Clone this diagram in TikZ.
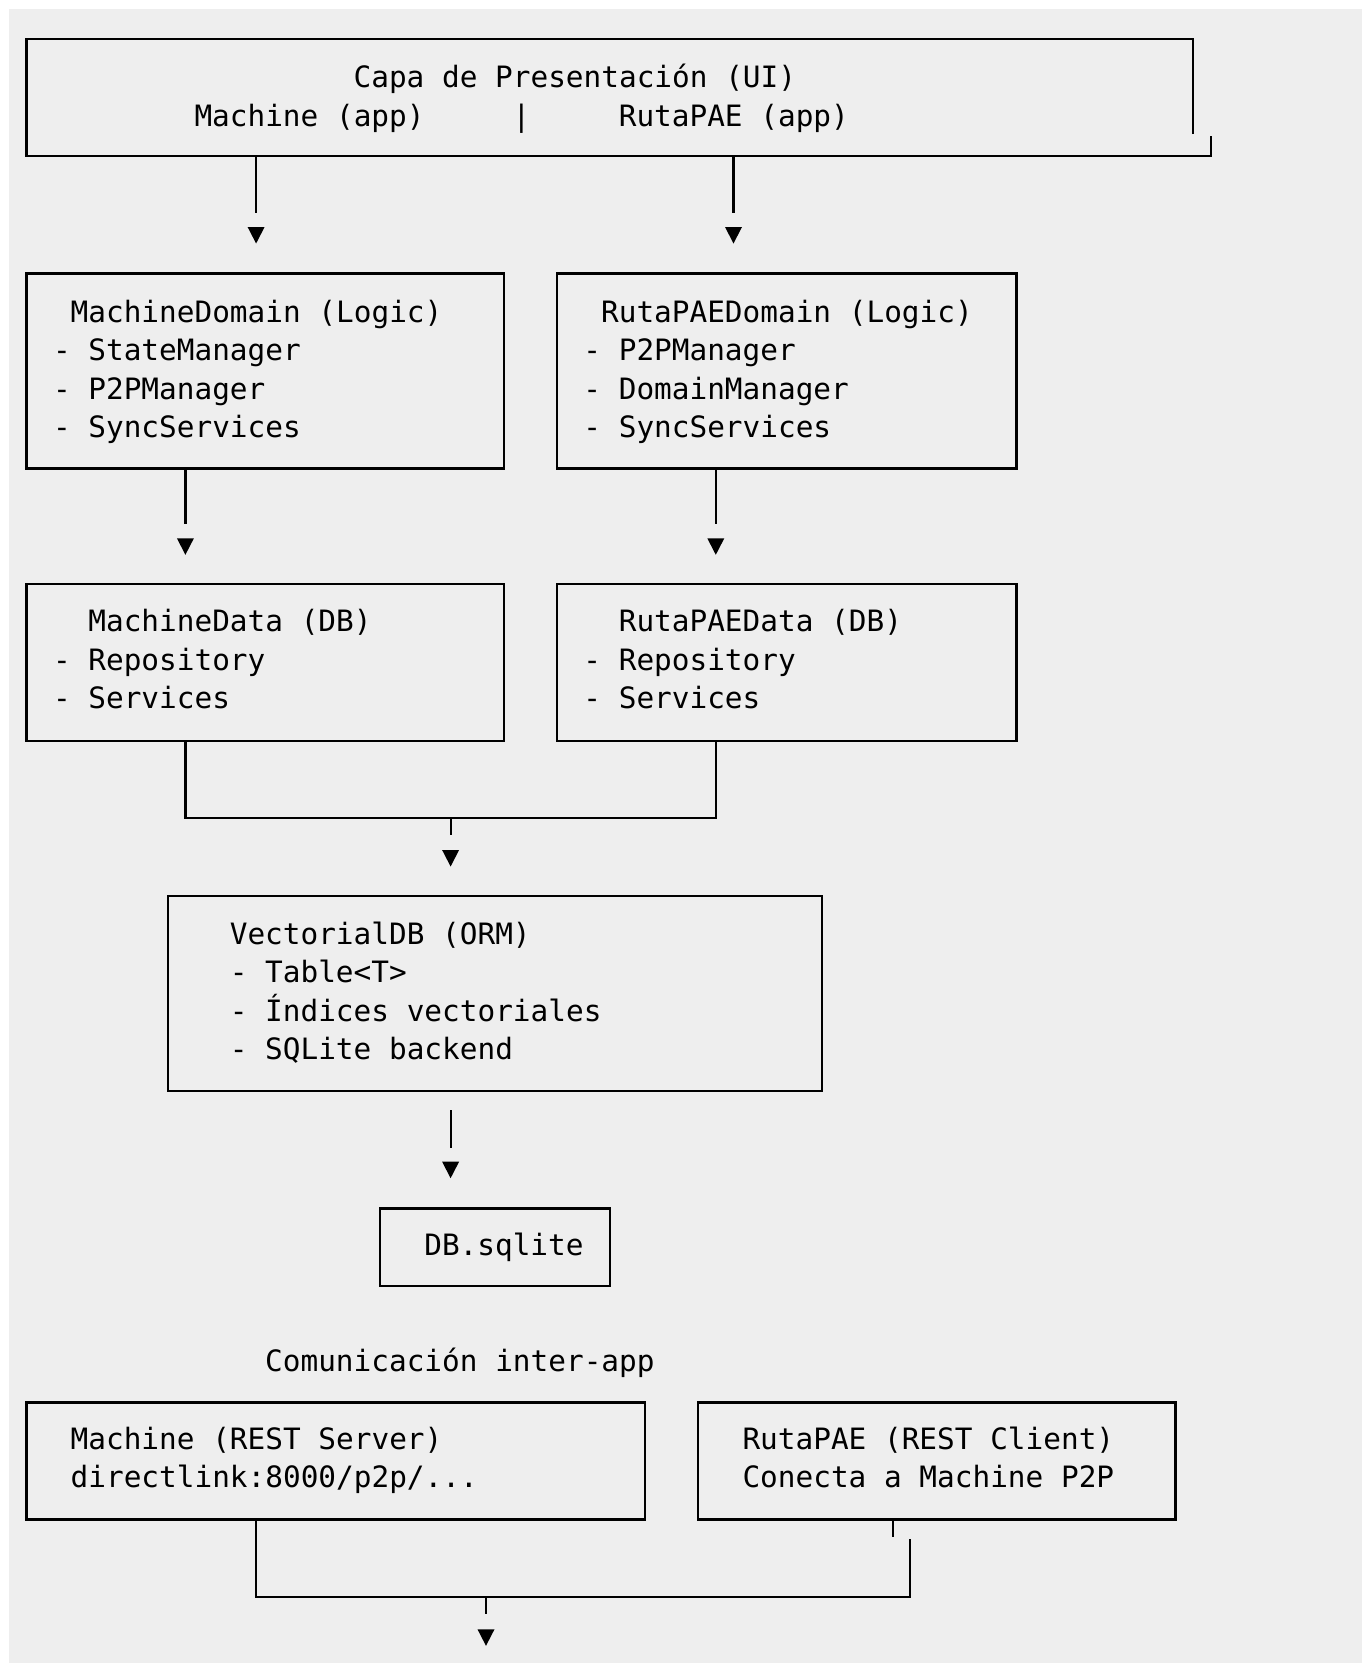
\documentclass[tikz,border=0pt]{standalone}
\usepackage{fontspec}
\newfontfamily\asciimono{DejaVu Sans Mono}
\newcommand{\asciifont}{\asciimono\fontsize{29.4pt}{38.5pt}\selectfont}
\definecolor{paper}{HTML}{EEEEEE}
\tikzset{
  box/.style={draw,line width=2.4pt,inner sep=0pt,outer sep=0pt,anchor=north west},
  frame/.style={inner sep=0pt,outer sep=0pt,anchor=north west},
  txt/.style={font=\asciifont,anchor=base west,inner sep=0pt},
  link/.style={line width=2.2pt},
}
\begin{document}
\frenchspacing
\begin{tikzpicture}[x=1pt,y=-1pt]
\useasboundingbox (0,0) rectangle (1362,1663);
\fill[white] (0,0) rectangle (1362,1663);
\fill[paper] (9,9) rectangle (1362,1663);
% capa de presentacion
\node[frame,minimum width=1166.9pt,minimum height=117pt] (ui) at (26.3,39) {};
\draw[link,line width=2.4pt] ([yshift=22pt]ui.south east) -- (ui.north east) -- (ui.north west) -- (ui.south west) -- ++(1184.6,0) -- ++(0,-20);
\node[txt] (uititle) at (353.4,87) {Capa de Presentación (UI)};
\node[txt] (uimach) at (194.3,126.7) {Machine (app)};
\node[txt] (uisep) at (512.5,126.7) {|};
\node[txt] (uiruta) at (618.6,126.7) {RutaPAE (app)};
% dominio
\node[box,minimum width=477.4pt,minimum height=195pt] (mdom) at (26.3,273.3) {};
\node[txt] (mdomt) at (70.5,322) {MachineDomain (Logic)};
\foreach \t [count=\i] in {StateManager,P2PManager,SyncServices}
  \node[txt] (mdom\i) at (52.8,{322+38.5*\i}) {- \t};
\node[box,minimum width=459.7pt,minimum height=195pt] (rdom) at (556.7,273.3) {};
\node[txt] (rdomt) at (600.9,322) {RutaPAEDomain (Logic)};
\foreach \t [count=\i] in {P2PManager,DomainManager,SyncServices}
  \node[txt] (rdom\i) at (583.2,{322+38.5*\i}) {- \t};
% datos
\node[box,minimum width=477.4pt,minimum height=157pt] (mdat) at (26.3,584) {};
\node[txt] (mdatt) at (88.2,631.7) {MachineData (DB)};
\foreach \t [count=\i] in {Repository,Services}
  \node[txt] (mdat\i) at (52.8,{631.7+38.5*\i}) {- \t};
\node[box,minimum width=459.7pt,minimum height=157pt] (rdat) at (556.7,584) {};
\node[txt] (rdatt) at (618.6,631.7) {RutaPAEData (DB)};
\foreach \t [count=\i] in {Repository,Services}
  \node[txt] (rdat\i) at (583.2,{631.7+38.5*\i}) {- \t};
% orm y fichero
\node[box,minimum width=654.3pt,minimum height=195pt] (vdb) at (167.7,896) {};
\node[txt] (vdbt) at (229.6,944) {VectorialDB (ORM)};
\foreach \t [count=\i] in {Table<T>,Índices vectoriales,SQLite backend}
  \node[txt] (vdb\i) at (229.6,{944+38.5*\i}) {- \t};
\node[box,minimum width=229.8pt,minimum height=77.7pt] (dbf) at (379.9,1208.3) {};
\node[txt] (dbft) at (424.1,1255) {DB.sqlite};
% comunicacion
\node[txt] (comm) at (265,1371.7) {Comunicación inter-app};
\node[box,minimum width=618.8pt,minimum height=117pt] (srv) at (26.3,1402.3) {};
\node[txt] (srv1) at (70.5,1449.3) {Machine (REST Server)};
\node[txt] (srv2) at (70.5,1487.8) {directlink:8000/p2p/...};
\node[box,minimum width=477.4pt,minimum height=117pt] (cli) at (698.1,1402.3) {};
\node[txt] (cli1) at (742.3,1449.3) {RutaPAE (REST Client)};
\node[txt] (cli2) at (742.3,1487.8) {Conecta a Machine P2P};
% flechas
\coordinate (t1) at (256.1,227);
\coordinate (t2) at (733.5,227);
\coordinate (t3) at (185.4,538.3);
\coordinate (t4) at (715.8,538.3);
\coordinate (t5) at (450.6,850);
\coordinate (t6) at (450.6,1161.7);
\coordinate (t7) at (486,1629.3);
\coordinate (j1) at (450.6,818.3);
\coordinate (s1) at (256.1,1597.3);
\coordinate (s2) at (910.3,1597.3);
\coordinate (s3) at (892.6,1536.7);
\draw[link,shorten >=14pt] (ui.south -| t1) -- (t1);
\draw[link,shorten >=14pt] (ui.south -| t2) -- (t2);
\draw[link,shorten >=14pt] (mdom.south -| t3) -- (t3);
\draw[link,shorten >=14pt] (rdom.south -| t4) -- (t4);
\draw[link] (mdat.south -| t3) |- (j1) -| (rdat.south -| t4);
\draw[link,shorten >=15pt] (j1) -- (t5);
\draw[link,shorten <=19pt,shorten >=14pt] (vdb.south -| t6) -- (t6);
\draw[link] (srv.south -| s1) -- (s1) -- (s2) -- ++(0,-58.3);
\draw[link] (cli.south -| s3) -- (s3);
\draw[link,shorten >=15pt] (s1 -| t7) -- (t7);
\foreach \c in {t1,t2,t3,t4,t5,t6,t7}
  \fill (\c) ++(-8.5,0) -- ++(17,0) -- ++(-8.5,16.5) -- cycle;
\end{tikzpicture}
\end{document}
